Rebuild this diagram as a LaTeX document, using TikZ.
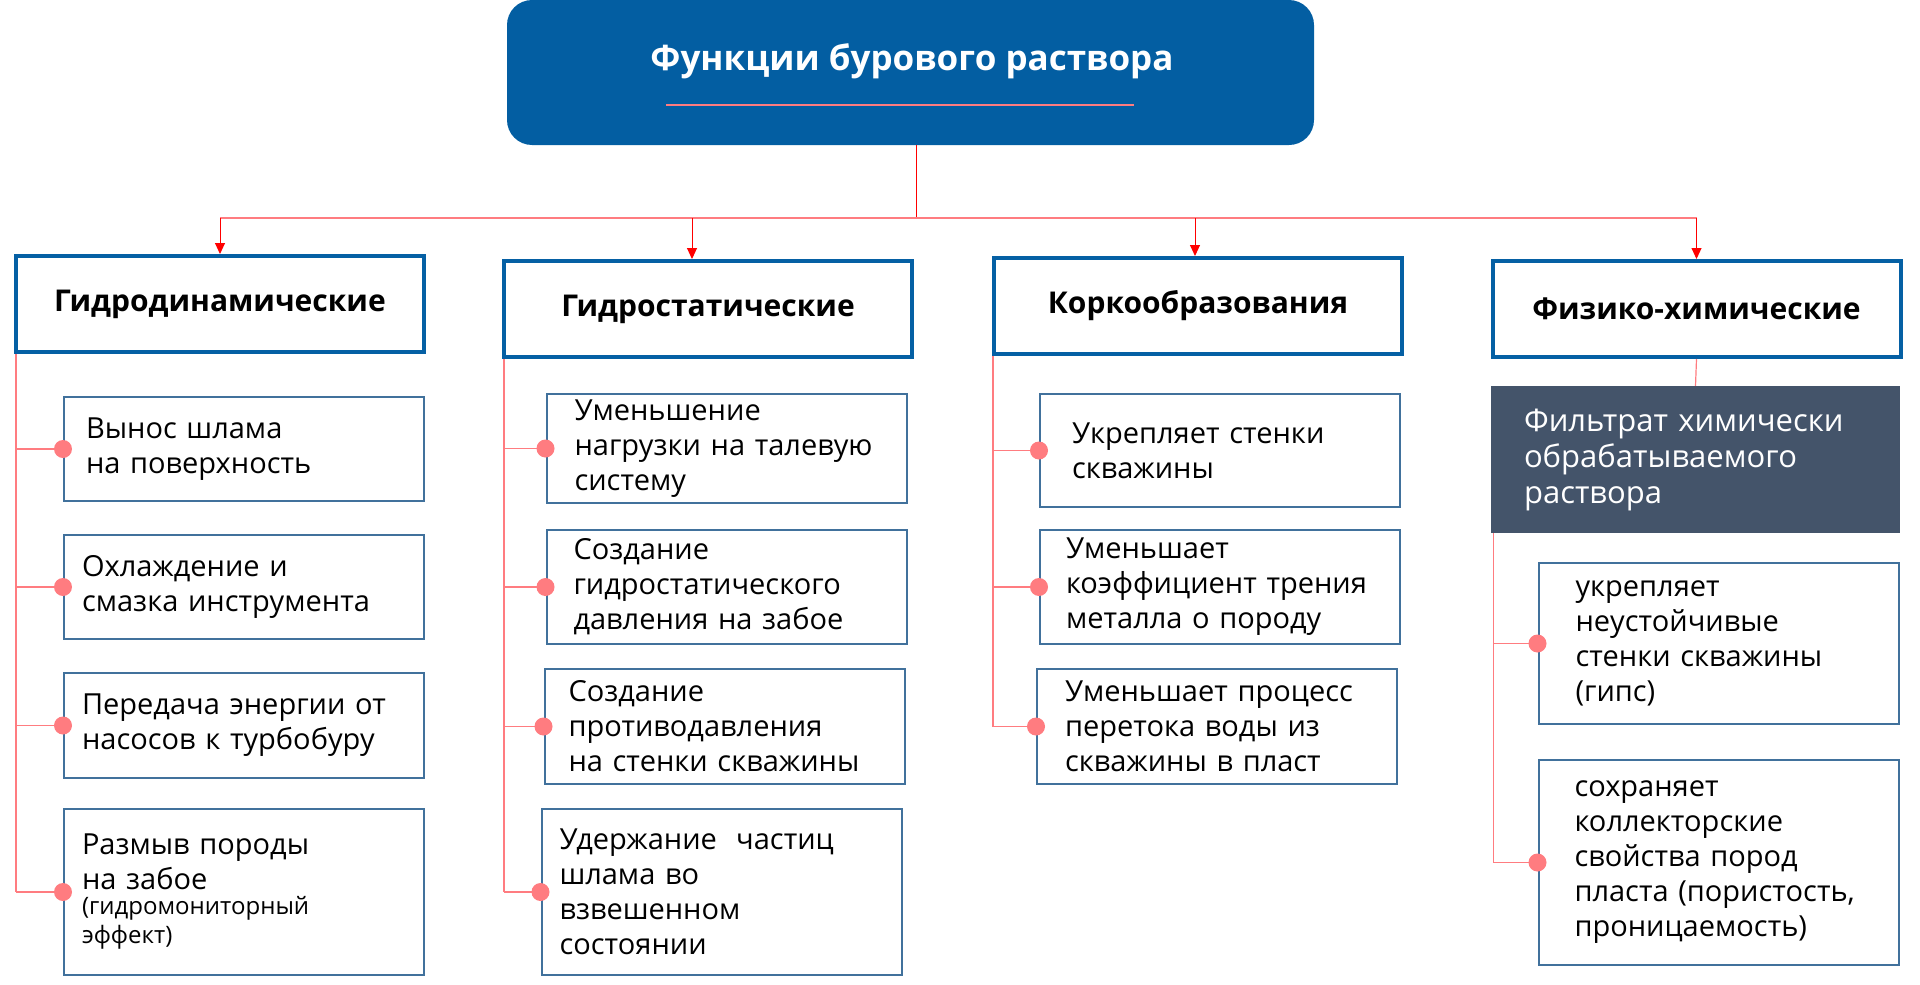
\documentclass[tikz,border=0pt]{standalone}
\usepackage{fontspec}
\setmainfont{Open Sans}
\usetikzlibrary{arrows.meta}
\usetikzlibrary{positioning}

\definecolor{topblue}{HTML}{035EA2}
\definecolor{catblue}{HTML}{0560A4}
\definecolor{itemblue}{HTML}{41719C}
\definecolor{slate}{HTML}{44546A}
\definecolor{linkpink}{HTML}{FF7C80}
\definecolor{arrowred}{HTML}{FF0000}

\tikzset{
    topbox/.style={fill=topblue, rounded corners=25pt, minimum width=807pt, minimum height=145pt},
    titletext/.style={text=white, font=\fontsize{35}{42}\selectfont\bfseries},
    catbox/.style={draw=catblue, line width=4pt, minimum width=408pt, minimum height=96pt,
        font=\fontsize{30}{36}\selectfont\bfseries},
    itembox/.style={draw=itemblue, line width=2pt, inner xsep=#1, text width=360pt-2*#1,
        align=left, font=\fontsize{29}{35}\selectfont},
    itembox/.default=22pt,
    darkbox/.style={fill=slate, text=white, minimum height=147pt, inner xsep=33pt, text width=343pt,
        align=left, font=\fontsize{31}{36}\selectfont},
    link/.style={draw=linkpink, line width=1.2pt},
    busline/.style={draw=linkpink, line width=2pt},
    stem/.style={draw=arrowred, line width=1pt, -{Triangle[length=11pt,width=10pt]}},
}

\begin{document}
\begin{tikzpicture}[x=1pt, y=-1pt]
    \useasboundingbox (0,0) rectangle (1920,985);

    % head
    \node[topbox] (top) at (910.5,72.5) {};
    \node[titletext] (title) at (912,61) {Функции бурового раствора};
    \draw[link] (666,105) -- (1134,105);
    \coordinate (bus) at (916,218);

    % groups
    \node[catbox] (c1) at (220,304) {Гидродинамические};
    \node[catbox] (c2) at (708,309) {Гидростатические};
    \node[catbox] (c3) at (1198,306) {Коркообразования};
    \node[catbox] (c4) at (1696.5,309) {Физико-химические};

    \draw[arrowred, line width=1pt] (top.south -| bus) -- (bus);
    \draw[busline] (c1.north |- bus) -- (c4.north |- bus);
    \coordinate (a2) at ([xshift=-16pt]c2.north);
    \coordinate (a3) at ([xshift=-3pt]c3.north);
    \foreach \a in {c1.north, a2, a3, c4.north}
        \draw[stem] (\a |- bus) -- (\a);

    % column 1
    \node[itembox, minimum height=104pt] (h1a) at (244,449) {Вынос шлама\\на поверхность};
    \node[itembox=18pt, minimum height=104pt] (h1b) at (244,587) {Охлаждение и\\смазка инструмента};
    \node[itembox=18pt, minimum height=105pt] (h1c) at (244,725.5) {Передача энергии от\\насосов к турбобуру};
    \node[itembox=18pt, minimum height=166pt] (h1d) at (244,892) {Размыв породы\\на забое\\[-4pt]
        {\fontsize{24}{29}\selectfont(гидромониторный\\[-6pt]эффект)}};

    % column 2
    \node[itembox=28pt, minimum height=109pt] (h2a) at (726.5,448.5) {Уменьшение\\нагрузки на талевую\\систему};
    \node[itembox=27pt, minimum height=114pt] (h2b) at (726.5,587) {Создание\\гидростатического\\давления на забое};
    \node[itembox=24pt, minimum height=115pt] (h2c) at (724.5,726.5) {Создание\\противодавления\\на стенки скважины};
    \node[itembox=18pt, minimum height=166pt] (h2d) at (721.5,892) {Удержание\ \ частиц\\шлама во\\взвешенном\\состоянии};

    % column 3
    \node[itembox=32pt, minimum height=113pt] (h3a) at (1220,450.5) {Укрепляет стенки\\скважины};
    \node[itembox=26pt, minimum height=114pt] (h3b) at (1220,587) {Уменьшает\\коэффициент трения\\металла о породу};
    \node[itembox=28pt, minimum height=115pt] (h3c) at (1217,726.5) {Уменьшает процесс\\перетока воды из\\скважины в пласт};

    % column 4
    \node[darkbox] (d4) at (1695.5,459.5) {Фильтрат химически\\обрабатываемого\\раствора};
    \node[itembox=37pt, minimum height=161pt] (h4a) at (1718.5,643.5) {укрепляет\\неустойчивые\\стенки скважины\\(гипс)};
    \node[itembox=36pt, minimum height=205pt] (h4b) at (1718.5,862.5) {сохраняет\\коллекторские\\свойства пород\\пласта (пористость,\\проницаемость)};

    % connectors
    \coordinate (v1) at ([xshift=2pt]c1.south west);
    \coordinate (v2) at ([xshift=2pt]c2.south west);
    \coordinate (v3) at ([xshift=1pt]c3.south west);
    \coordinate (v4) at ([xshift=3pt]d4.south west);
    \draw[link] (c4.south) -- (d4.north);
    \draw[link] (v1) -- (v1 |- h1d.west);
    \draw[link] (v2) -- (v2 |- h2d.west);
    \draw[link] (v3) -- (v3 |- h3c.west);
    \draw[link] (v4) -- (v4 |- h4b.west);
    \foreach \n/\v in {h1a/v1, h1b/v1, h1c/v1, h1d/v1, h2a/v2, h2b/v2, h2c/v2, h2d/v2,
                       h3a/v3, h3b/v3, h3c/v3, h4a/v4, h4b/v4} {
        \draw[link] (\v |- \n.west) -- (\n.west);
        \fill[linkpink] (\n.west) circle (9pt);
    }
\end{tikzpicture}
\end{document}
